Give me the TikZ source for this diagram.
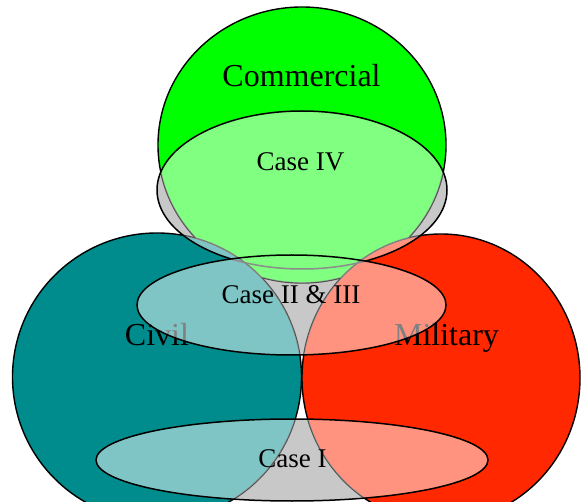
\documentclass[tikz,border=0pt]{standalone}
\usepackage{fontspec}
\setmainfont{Liberation Serif}
\definecolor{comgreen}{RGB}{0,255,0}
\definecolor{civteal}{RGB}{0,140,140}
\definecolor{milred}{RGB}{255,40,0}

% sector and case outlines
\newcommand{\comzone}{(302,356) ellipse [x radius=144, y radius=138]}
\newcommand{\civzone}{(157,124) ellipse [x radius=144.5, y radius=144]}
\newcommand{\milzone}{(441,123) ellipse [x radius=139, y radius=144]}
\newcommand{\casefour}{(302,311) ellipse [x radius=145, y radius=79]}
\newcommand{\casetwothree}{(291.5,196) ellipse [x radius=154.5, y radius=50]}
\newcommand{\caseone}{(292,41) ellipse [x radius=196, y radius=41]}
\newcommand{\farframe}{(-100,-250) rectangle (700,600)}

\begin{document}
\begin{tikzpicture}[x=1pt,y=1pt,
		sector/.style={draw, line width=1.4pt},
		casetint/.style={fill=white, fill opacity=0.5},
		casegray/.style={fill=black!43, fill opacity=0.5},
		caseline/.style={draw, line width=1.5pt},
		biglabel/.style={anchor=base, font=\fontsize{32}{36}\selectfont},
		caselabel/.style={anchor=base, font=\fontsize{27}{30}\selectfont}
		]
		\useasboundingbox (0,0) rectangle (581,501);
		
		% --- Sectors ---
		\path[sector, fill=comgreen] \comzone;
		\path[sector, fill=civteal] \civzone;
		\path[sector, fill=milred] \milzone;
		
		\node[biglabel] (comlabel) at (301.5,414) {Commercial};
		\node[biglabel] (civlabel) at (157,155) {Civil};
		\node[biglabel] (millabel) at (446.5,155) {Military};
		
		% --- Cases (hatched overlay) ---
		\begin{scope}
			\clip \casefour \casetwothree \caseone;
			\fill[casetint] \comzone \civzone \milzone;
			\begin{scope}[even odd rule]
				\clip \farframe \comzone;
				\clip \farframe \civzone;
				\clip \farframe \milzone;
				\fill[casegray] \farframe;
			\end{scope}
		\end{scope}
		% Case IV outline lies under the Case II & III overlay
		\begin{scope}[even odd rule]
			\clip \farframe \casetwothree;
			\path[caseline] \casefour;
		\end{scope}
		\begin{scope}
			\clip \casetwothree;
			\path[caseline, draw=black!45] \casefour;
		\end{scope}
		\path[caseline] \casetwothree;
		\path[caseline] \caseone;
		
		\node[caselabel] (case4label) at (300.5,330) {Case IV};
		\node[caselabel] (case23label) at (291,197) {Case II \& III};
		\node[caselabel] (case1label) at (292.5,34) {Case I};
		
	\end{tikzpicture}
\end{document}
